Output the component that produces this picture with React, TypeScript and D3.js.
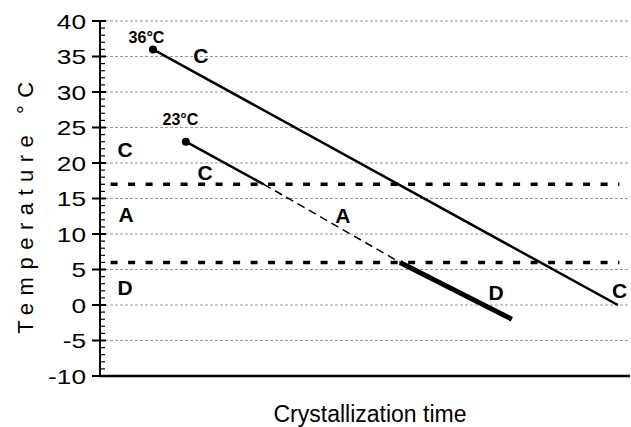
import * as React from "react";
import * as d3 from "d3";

// temperature ticks
const yTicks = [-10, -5, 0, 5, 10, 15, 20, 25, 30, 35, 40];

// cooling from 36°C (one solid line)
const hotTime = [10, 97.7];
const hotTemp = [36, 0];

// cooling from 23°C, in three pieces
const coolSolidTime = [16.2, 30.9];
const coolSolidTemp = [23, 17];
const coolDashTime = [30.9, 56.6];
const coolDashTemp = [17, 6];
const coolThickTime = [56.6, 77.7];
const coolThickTemp = [6, -2];

// phase boundaries
const boundaries = [17, 6];

// region / form labels
const labelText = ["36°C", "C", "23°C", "C", "C", "A", "A", "D", "D", "C"];
const labelTime = [5.4, 17.6, 11.8, 3.3, 18.4, 3.5, 44.4, 3.3, 73.3, 96.6];
const labelTemp = [36.9, 34.1, 25.4, 20.8, 17.6, 11.7, 11.5, 1.4, 0.7, 1.0];

const App = () => {
  const width = 631;
  const height = 427;

  const x = d3.scaleLinear().domain([0, 100]).range([100, 630]);
  const y = d3.scaleLinear().domain([-10, 40]).range([376, 21]);

  const line = d3
    .line<number>()
    .x((d) => x(d[0]))
    .y((d) => y(d[1]));

  const pts = (xs: number[], ys: number[]) => xs.map((v, i) => [v, ys[i]]);

  const minor = d3.range(-10, 41, 1).filter((v) => v % 5 !== 0);

  return (
    <div style={{ position: "absolute", left: 0, top: 0 }}>
      <svg width={width} height={height} style={{ display: "block", background: "#fff" }}>
        <g fontFamily="'Liberation Sans', Arial, sans-serif">
          {/* grid */}
          {yTicks
            .filter((t) => t > -10)
            .map((t) => (
              <line
                key={"g" + t}
                x1={x(0)}
                x2={628}
                y1={y(t)}
                y2={y(t)}
                stroke="#999"
                strokeWidth={1}
                strokeDasharray="3,2"
              />
            ))}

          {/* boundaries */}
          {boundaries.map((b) => (
            <line
              key={"b" + b}
              x1={x(2)}
              x2={x(98)}
              y1={y(b)}
              y2={y(b)}
              stroke="#000"
              strokeWidth={3.5}
              strokeDasharray="7,10.5"
            />
          ))}

          {/* axes */}
          <line x1={x(0)} x2={x(0)} y1={y(40)} y2={y(-10)} stroke="#000" strokeWidth={2} />
          <line x1={x(0) - 1} x2={630} y1={y(-10)} y2={y(-10)} stroke="#000" strokeWidth={2.5} />
          {yTicks.map((t) => (
            <g key={"t" + t}>
              <line x1={92} x2={106} y1={y(t)} y2={y(t)} stroke="#000" strokeWidth={2} />
              <text
                x={86}
                y={y(t)}
                dy="0.36em"
                textAnchor="end"
                fontSize={21}
                transform={`translate(86,0) scale(1.25,1) translate(-86,0)`}
              >
                {t}
              </text>
            </g>
          ))}
          {minor.map((t) => (
            <line key={"m" + t} x1={100} x2={105} y1={y(t)} y2={y(t)} stroke="#000" strokeWidth={1.2} />
          ))}

          {/* lines */}
          <path d={line(pts(hotTime, hotTemp) as any) || ""} fill="none" stroke="#000" strokeWidth={2.5} />
          <path d={line(pts(coolSolidTime, coolSolidTemp) as any) || ""} fill="none" stroke="#000" strokeWidth={2.5} />
          <path
            d={line(pts(coolDashTime, coolDashTemp) as any) || ""}
            fill="none"
            stroke="#000"
            strokeWidth={1.5}
            strokeDasharray="8,5"
          />
          <path d={line(pts(coolThickTime, coolThickTemp) as any) || ""} fill="none" stroke="#000" strokeWidth={5} />
          <circle cx={x(hotTime[0])} cy={y(hotTemp[0])} r={4} fill="#000" />
          <circle cx={x(coolSolidTime[0])} cy={y(coolSolidTemp[0])} r={4} fill="#000" />

          {/* labels */}
          {labelText.map((s, i) => (
            <text
              key={"l" + i}
              x={x(labelTime[i])}
              y={y(labelTemp[i])}
              fontWeight="bold"
              fontSize={s.length > 1 ? 16 : 21}
            >
              {s}
            </text>
          ))}

          {/* axis titles */}
          <text x={370} y={422} textAnchor="middle" fontSize={23}>
            Crystallization time
          </text>
          <text
            transform="translate(33,204) rotate(-90)"
            textAnchor="middle"
            fontSize={22}
            letterSpacing={7.5}
          >
            Temperature °C
          </text>
        </g>
      </svg>
    </div>
  );
};

export default App;
